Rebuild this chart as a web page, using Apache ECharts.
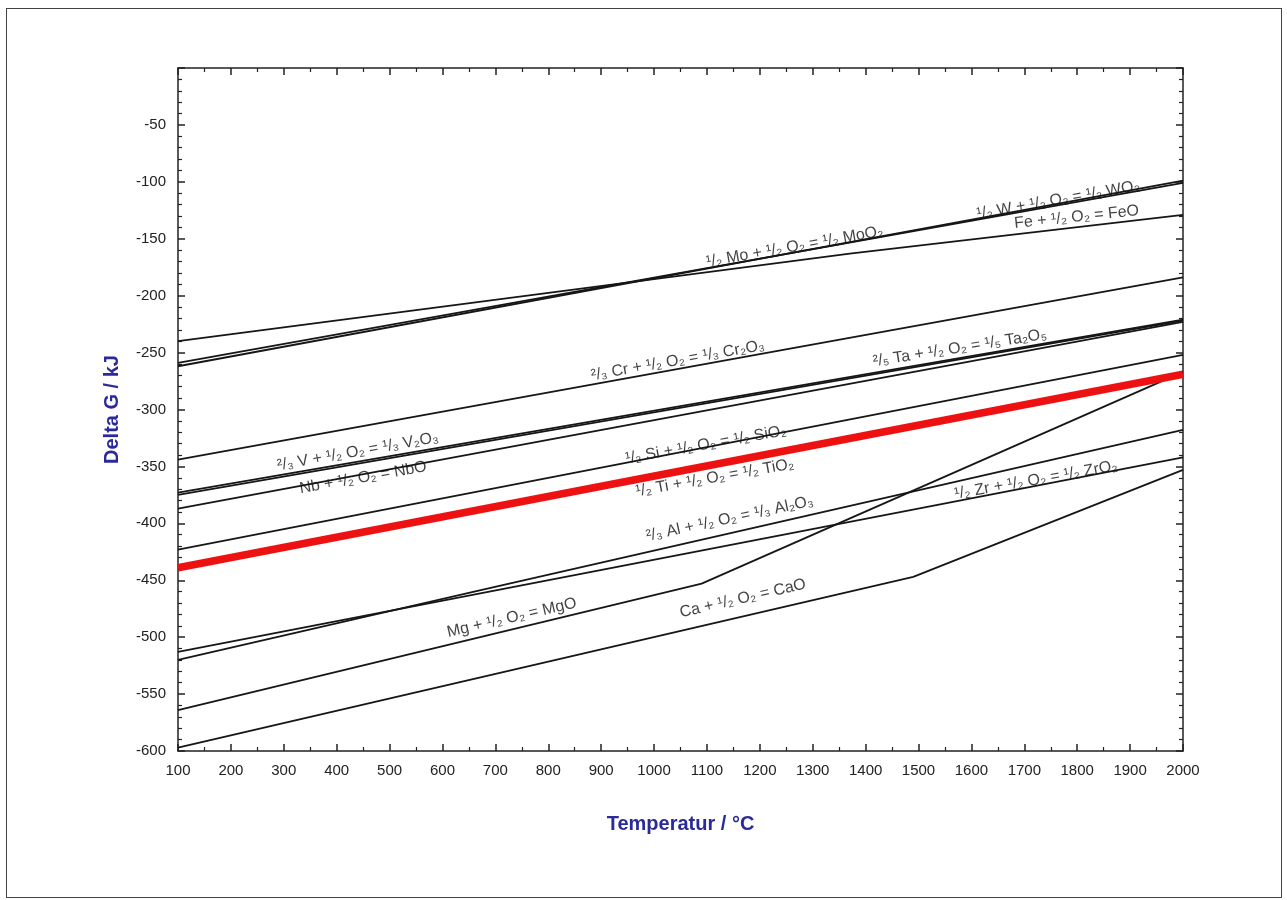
<!DOCTYPE html>
<html>
<head>
<meta charset="utf-8">
<script src="https://cdn.jsdelivr.net/npm/echarts@6/dist/echarts.min.js"></script>
<style>
html, body { margin: 0; padding: 0; background: #fff; }
#frame { position: absolute; left: 6px; top: 8px; width: 1276px; height: 890px; border: 1px solid #444; box-sizing: border-box; }
#chart { position: absolute; left: 0; top: 0; width: 1287px; height: 900px; }
</style>
</head>
<body>
<div id="frame"></div>
<div id="chart"></div>
<script>
// temperatures (°C) and Delta G (kJ)
const feT = [100, 1370, 2000];
const feG = [-240, -163, -129];
const moT = [100, 2000];
const moG = [-259, -101];
const wT = [100, 2000];
const wG = [-262, -99];
const crT = [100, 2000];
const crG = [-344, -184];
const vT = [100, 2000];
const vG = [-375, -222];
const taT = [100, 2000];
const taG = [-373, -221];
const nbT = [100, 2000];
const nbG = [-387, -223];
const siT = [100, 2000];
const siG = [-423, -252];
const tiT = [100, 2000];
const tiG = [-439, -269];
const alT = [100, 660, 2000];
const alG = [-520, -460, -318];
const zrT = [100, 2000];
const zrG = [-513, -342];
const mgT = [100, 1090, 2000];
const mgG = [-564, -453, -267];
const caT = [100, 1490, 2000];
const caG = [-597, -447, -353];

// reaction labels
const labelText = [
  '¹/₂ Mo + ¹/₂ O₂ = ¹/₂ MoO₂',
  '¹/₂ W + ¹/₂ O₂ = ¹/₂ WO₂',
  'Fe + ¹/₂ O₂ = FeO',
  '²/₃ Cr + ¹/₂ O₂ = ¹/₃ Cr₂O₃',
  '²/₅ Ta + ¹/₂ O₂ = ¹/₅ Ta₂O₅',
  '²/₃ V + ¹/₂ O₂ = ¹/₃ V₂O₃',
  'Nb + ¹/₂ O₂ = NbO',
  '¹/₂ Si + ¹/₂ O₂ = ¹/₂ SiO₂',
  '¹/₂ Ti + ¹/₂ O₂ = ¹/₂ TiO₂',
  '²/₃ Al + ¹/₂ O₂ = ¹/₃ Al₂O₃',
  '¹/₂ Zr + ¹/₂ O₂ = ¹/₂ ZrO₂',
  'Mg + ¹/₂ O₂ = MgO',
  'Ca + ¹/₂ O₂ = CaO'
];
const labelT = [1266, 1764, 1799, 1045, 1578, 440, 450, 1098, 1115, 1143, 1722, 731, 1168];
const labelG = [-157, -116, -131, -257, -246, -337, -360, -331, -360, -396, -362, -483, -466];
const labelAngle = [10, 10, 6, 10, 9, 10, 10, 10, 10, 12, 10, 13, 13];

const chart = echarts.init(document.getElementById('chart'), null, { renderer: 'canvas' });

function zip(ts, gs) {
  return ts.map((t, i) => [t, gs[i]]);
}

function lineSeries(name, ts, gs, color, width) {
  return {
    name: name,
    type: 'line',
    symbol: 'none',
    silent: true,
    lineStyle: { color: color || '#161616', width: width || 1.8 },
    data: zip(ts, gs)
  };
}

// fresh axis styling objects for every axis
function axisStyle(minorSplit) {
  return {
    axisLine: { show: true, onZero: false, lineStyle: { color: '#222', width: 1.5 } },
    axisTick: { show: true, inside: true, length: 7, lineStyle: { color: '#222', width: 1.5 } },
    minorTick: { show: true, splitNumber: minorSplit, length: 4, lineStyle: { color: '#222', width: 1.2 } },
    splitLine: { show: false },
    minorSplitLine: { show: false }
  };
}

const nameStyle = { color: '#2a2a9a', fontSize: 20, fontWeight: 'bold', fontFamily: 'Liberation Sans, Arial, sans-serif' };

const option = {
  animation: false,
  backgroundColor: 'transparent',
  textStyle: { fontFamily: 'Liberation Sans, Arial, sans-serif' },
  grid: { left: 178, top: 68, width: 1005, height: 683 },
  xAxis: [
    Object.assign({
      type: 'value', min: 100, max: 2000, interval: 100, position: 'bottom',
      name: 'Temperatur / °C', nameLocation: 'middle', nameGap: 63,
      nameTextStyle: nameStyle,
      axisLabel: { color: '#222', fontSize: 15, margin: 12, formatter: v => String(v) }
    }, axisStyle(2)),
    Object.assign({
      type: 'value', min: 100, max: 2000, interval: 100, position: 'top',
      axisLabel: { show: false }
    }, axisStyle(2))
  ],
  yAxis: [
    Object.assign({
      type: 'value', min: -600, max: 0, interval: 50, position: 'left',
      name: 'Delta G / kJ', nameLocation: 'middle', nameGap: 56, nameRotate: 90,
      nameTextStyle: nameStyle,
      axisLabel: { color: '#222', fontSize: 15, margin: 12, showMaxLabel: false, formatter: v => String(v) }
    }, axisStyle(5)),
    Object.assign({
      type: 'value', min: -600, max: 0, interval: 50, position: 'right',
      axisLabel: { show: false }
    }, axisStyle(5))
  ],
  series: [
    lineSeries('Fe', feT, feG),
    lineSeries('Mo', moT, moG),
    lineSeries('W', wT, wG),
    lineSeries('Cr', crT, crG),
    lineSeries('V', vT, vG),
    lineSeries('Ta', taT, taG),
    lineSeries('Nb', nbT, nbG),
    lineSeries('Si', siT, siG),
    lineSeries('Al', alT, alG),
    lineSeries('Zr', zrT, zrG),
    lineSeries('Mg', mgT, mgG),
    lineSeries('Ca', caT, caG),
    lineSeries('Ti', tiT, tiG, '#ee1111', 7.5),
    {
      name: 'labels',
      type: 'scatter',
      symbolSize: 0,
      silent: true,
      data: labelText.map((txt, i) => ({
        value: [labelT[i], labelG[i]],
        label: {
          show: true,
          position: 'inside',
          formatter: txt,
          rotate: labelAngle[i],
          color: '#111',
          fontSize: 16,
          fontFamily: 'Liberation Sans, Arial, sans-serif'
        }
      }))
    }
  ]
};

chart.setOption(option);
</script>
</body>
</html>
